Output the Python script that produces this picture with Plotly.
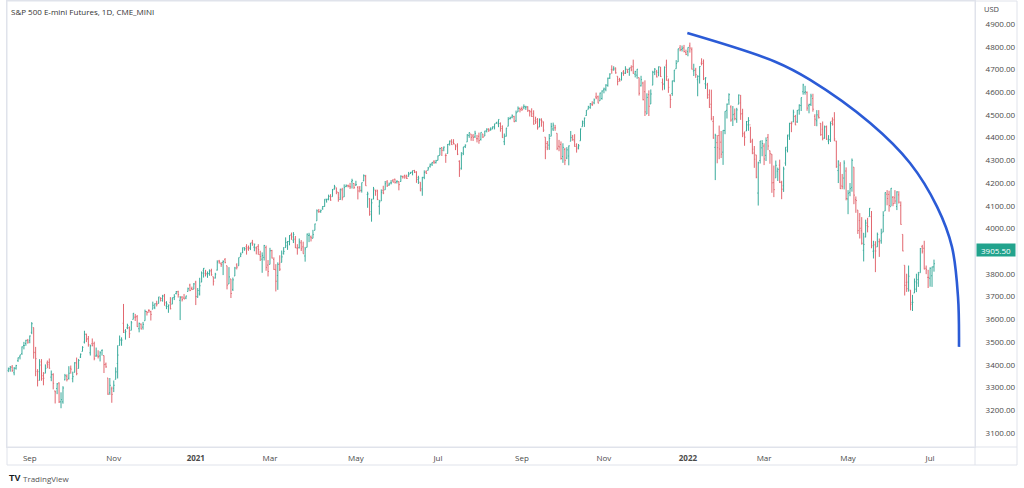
import pandas as pd
import plotly.graph_objects as go

# ---------------- data (one line per month) ----------------
holidays = ["2020-09-07", "2020-11-26", "2020-12-25", "2021-01-01", "2021-01-18", "2021-02-15",
            "2021-04-02", "2021-05-31", "2021-07-05", "2021-09-06", "2021-11-25", "2021-12-24",
            "2022-01-17", "2022-02-21", "2022-04-15", "2022-05-30", "2022-06-20", "2022-07-04"]
dates = [d for d in pd.bdate_range("2020-08-17", "2022-07-06") if d.strftime("%Y-%m-%d") not in holidays]

opens = [
    3375, 3383, 3390, 3365, 3385, 3418, 3435, 3449, 3485, 3494, 3508,
    3507, 3543, 3564, 3453, 3371, 3370, 3413, 3352, 3363, 3408, 3411, 3346, 3357, 3285, 3296, 3320, 3237, 3237, 3334, 3350, 3341,
    3385, 3339, 3367, 3408, 3384, 3434, 3459, 3500, 3535, 3515, 3453, 3493, 3493, 3439, 3439, 3439, 3464, 3441, 3403, 3342, 3277, 3294,
    3297, 3336, 3406, 3485, 3508, 3583, 3543, 3563, 3563, 3552, 3600, 3610, 3612, 3559, 3579, 3566, 3594, 3635, 3639, 3634,
    3645, 3653, 3669, 3670, 3694, 3683, 3706, 3659, 3657, 3675, 3667, 3696, 3714, 3722, 3684, 3698, 3694, 3694, 3723, 3751, 3736, 3733,
    3764, 3698, 3712, 3764, 3816, 3803, 3801, 3802, 3815, 3788, 3782, 3817, 3857, 3845, 3851, 3863, 3836, 3756, 3778,
    3732, 3791, 3840, 3836, 3878, 3893, 3910, 3920, 3917, 3912, 3939, 3918, 3915, 3921, 3885, 3865, 3873, 3916, 3839,
    3842, 3903, 3864, 3818, 3793, 3844, 3851, 3891, 3916, 3924, 3943, 3973, 3949, 3953, 3914, 3916, 3937, 3919, 3879, 3917, 3969, 3963, 3957,
    3992, 4034, 4076, 4074, 4089, 4097, 4125, 4130, 4141, 4140, 4174, 4179, 4159, 4128, 4170, 4139, 4185, 4188, 4186, 4206, 4198,
    4191, 4180, 4178, 4168, 4210, 4229, 4150, 4130, 4074, 4129, 4169, 4169, 4098, 4121, 4168, 4170, 4205, 4191, 4201, 4210,
    4217, 4206, 4206, 4207, 4229, 4233, 4232, 4229, 4242, 4248, 4255, 4249, 4216, 4204, 4174, 4225, 4249, 4256, 4274, 4284, 4293, 4290,
    4300, 4322, 4356, 4351, 4321, 4330, 4373, 4381, 4380, 4369, 4367, 4296, 4265, 4331, 4361, 4381, 4409, 4416, 4407, 4403, 4395,
    4406, 4392, 4416, 4407, 4429, 4437, 4436, 4442, 4446, 4464, 4461, 4462, 4440, 4382, 4406, 4450, 4484, 4490, 4493, 4474, 4513, 4529,
    4528, 4534, 4533, 4535, 4518, 4513, 4505, 4474, 4479, 4447, 4477, 4469, 4402, 4374, 4367, 4406, 4438, 4443, 4419, 4362, 4370,
    4317, 4348, 4310, 4319, 4384, 4407, 4385, 4368, 4358, 4386, 4448, 4464, 4497, 4525, 4532, 4547, 4553, 4579, 4580, 4562, 4572,
    4610, 4613, 4630, 4662, 4700, 4702, 4707, 4670, 4655, 4655, 4689, 4684, 4701, 4700, 4708, 4712, 4679, 4675, 4664, 4628, 4640,
    4602, 4504, 4589, 4548, 4631, 4690, 4690, 4687, 4710, 4642, 4637, 4719, 4652, 4587, 4594, 4650, 4703, 4733, 4795, 4788, 4795, 4775,
    4778, 4804, 4787, 4693, 4697, 4655, 4669, 4728, 4733, 4637, 4632, 4588, 4547, 4471, 4357, 4378, 4409, 4380, 4336, 4431,
    4520, 4566, 4535, 4482, 4505, 4480, 4547, 4553, 4506, 4412, 4429, 4456, 4456, 4385, 4332, 4324, 4156, 4299, 4355,
    4363, 4322, 4401, 4342, 4327, 4202, 4223, 4252, 4279, 4202, 4188, 4288, 4345, 4407, 4462, 4469, 4493, 4469, 4522, 4541, 4602, 4599, 4599,
    4540, 4547, 4572, 4494, 4474, 4494, 4463, 4437, 4398, 4449, 4385, 4390, 4472, 4478, 4385, 4255, 4279, 4187, 4222, 4253,
    4130, 4159, 4181, 4270, 4128, 4081, 4035, 3990, 3904, 3963, 4013, 4052, 4052, 3900, 3928, 3919, 3942, 3946, 3984, 4077, 4151,
    4150, 4096, 4137, 4135, 4097, 4148, 4101, 3974, 3838, 3763, 3764, 3729, 3675, 3716, 3733, 3775, 3805, 3920, 3913, 3825, 3785,
    3781, 3792, 3831,
]
highs = [
    3388, 3395, 3399, 3390, 3400, 3432, 3444, 3481, 3501, 3510, 3514,
    3529, 3588, 3564, 3479, 3381, 3425, 3425, 3368, 3402, 3419, 3428, 3375, 3363, 3286, 3320, 3323, 3279, 3306, 3360, 3358, 3394,
    3397, 3370, 3412, 3432, 3426, 3450, 3482, 3550, 3537, 3527, 3489, 3516, 3502, 3476, 3464, 3460, 3466, 3441, 3410, 3342, 3342, 3304,
    3331, 3389, 3486, 3529, 3521, 3668, 3557, 3581, 3569, 3593, 3628, 3624, 3619, 3586, 3582, 3589, 3643, 3636, 3645, 3638,
    3678, 3670, 3682, 3699, 3697, 3708, 3712, 3680, 3665, 3698, 3696, 3711, 3725, 3726, 3703, 3702, 3712, 3704, 3740, 3757, 3744, 3760,
    3770, 3738, 3783, 3811, 3826, 3818, 3811, 3820, 3823, 3788, 3805, 3860, 3862, 3852, 3860, 3870, 3836, 3830, 3778,
    3784, 3831, 3847, 3872, 3894, 3916, 3918, 3931, 3925, 3937, 3950, 3933, 3921, 3931, 3902, 3895, 3928, 3925, 3861,
    3915, 3906, 3873, 3843, 3851, 3882, 3903, 3918, 3961, 3945, 3971, 3982, 3984, 3967, 3931, 3956, 3949, 3942, 3919, 3978, 3981, 3969, 3994,
    4021, 4084, 4086, 4083, 4099, 4129, 4131, 4149, 4151, 4174, 4192, 4180, 4160, 4175, 4179, 4194, 4194, 4193, 4201, 4219, 4199,
    4210, 4187, 4187, 4202, 4238, 4236, 4162, 4134, 4131, 4183, 4170, 4170, 4126, 4172, 4188, 4209, 4213, 4202, 4213, 4218,
    4219, 4212, 4207, 4234, 4232, 4237, 4237, 4249, 4249, 4255, 4258, 4252, 4232, 4204, 4227, 4256, 4256, 4271, 4286, 4292, 4301, 4302,
    4321, 4356, 4358, 4361, 4330, 4372, 4387, 4393, 4393, 4369, 4375, 4300, 4336, 4359, 4370, 4415, 4423, 4416, 4416, 4430, 4412,
    4422, 4423, 4416, 4430, 4441, 4441, 4445, 4449, 4461, 4468, 4480, 4467, 4454, 4418, 4443, 4490, 4492, 4502, 4496, 4519, 4537, 4532,
    4537, 4546, 4540, 4538, 4522, 4529, 4520, 4492, 4486, 4484, 4485, 4471, 4402, 4385, 4416, 4465, 4466, 4456, 4419, 4390, 4383,
    4375, 4355, 4358, 4365, 4429, 4412, 4415, 4375, 4372, 4440, 4475, 4488, 4521, 4540, 4552, 4560, 4572, 4598, 4585, 4598, 4608,
    4620, 4635, 4664, 4683, 4718, 4714, 4708, 4670, 4663, 4688, 4697, 4714, 4701, 4708, 4718, 4743, 4694, 4702, 4664, 4672, 4646,
    4652, 4595, 4608, 4612, 4694, 4706, 4698, 4713, 4711, 4660, 4713, 4743, 4660, 4590, 4651, 4698, 4741, 4791, 4807, 4805, 4808, 4787,
    4797, 4818, 4797, 4725, 4707, 4674, 4714, 4749, 4744, 4666, 4641, 4612, 4611, 4495, 4417, 4411, 4453, 4429, 4433, 4516,
    4550, 4595, 4542, 4539, 4528, 4531, 4590, 4588, 4527, 4427, 4473, 4490, 4448, 4395, 4363, 4324, 4294, 4385, 4389,
    4375, 4401, 4416, 4343, 4327, 4277, 4299, 4268, 4303, 4210, 4272, 4358, 4412, 4465, 4471, 4523, 4500, 4521, 4546, 4576, 4637, 4628, 4603,
    4549, 4593, 4593, 4503, 4521, 4521, 4464, 4471, 4453, 4453, 4411, 4471, 4489, 4512, 4386, 4300, 4292, 4240, 4300, 4269,
    4169, 4200, 4308, 4270, 4141, 4081, 4068, 4050, 3981, 4039, 4047, 4090, 4077, 3946, 3944, 3982, 3956, 3999, 4076, 4159, 4169,
    4166, 4178, 4143, 4169, 4164, 4164, 4119, 3974, 3838, 3801, 3837, 3729, 3708, 3780, 3801, 3809, 3914, 3928, 3946, 3837, 3818,
    3829, 3832, 3863,
]
lows = [
    3368, 3370, 3369, 3354, 3379, 3413, 3424, 3444, 3468, 3484, 3493,
    3495, 3535, 3427, 3350, 3305, 3330, 3330, 3310, 3363, 3385, 3383, 3328, 3292, 3230, 3271, 3232, 3209, 3229, 3332, 3327, 3335,
    3361, 3323, 3367, 3354, 3384, 3430, 3459, 3494, 3500, 3480, 3441, 3482, 3420, 3435, 3428, 3415, 3441, 3364, 3387, 3268, 3268, 3233,
    3280, 3336, 3340, 3485, 3484, 3540, 3511, 3557, 3518, 3552, 3600, 3593, 3567, 3543, 3556, 3555, 3594, 3617, 3629, 3595,
    3645, 3645, 3657, 3670, 3679, 3678, 3660, 3645, 3629, 3644, 3667, 3685, 3710, 3696, 3597, 3679, 3689, 3689, 3723, 3724, 3729, 3733,
    3663, 3695, 3705, 3764, 3784, 3789, 3783, 3792, 3792, 3749, 3780, 3815, 3845, 3831, 3795, 3847, 3732, 3756, 3694,
    3725, 3791, 3820, 3836, 3874, 3892, 3902, 3885, 3902, 3905, 3924, 3900, 3886, 3884, 3857, 3805, 3859, 3814, 3789,
    3842, 3868, 3818, 3723, 3730, 3813, 3851, 3885, 3915, 3906, 3926, 3950, 3936, 3914, 3885, 3912, 3901, 3889, 3854, 3917, 3940, 3943, 3957,
    3992, 4034, 4069, 4069, 4082, 4096, 4114, 4124, 4122, 4140, 4171, 4151, 4118, 4126, 4124, 4139, 4182, 4181, 4174, 4176, 4174,
    4188, 4128, 4159, 4158, 4208, 4188, 4091, 4056, 4030, 4129, 4144, 4125, 4061, 4121, 4151, 4170, 4183, 4188, 4194, 4203,
    4198, 4198, 4168, 4206, 4220, 4219, 4218, 4229, 4240, 4234, 4244, 4201, 4196, 4164, 4144, 4217, 4241, 4256, 4268, 4275, 4284, 4286,
    4300, 4322, 4319, 4340, 4289, 4330, 4365, 4368, 4370, 4345, 4323, 4227, 4259, 4323, 4354, 4381, 4399, 4386, 4385, 4399, 4379,
    4373, 4387, 4398, 4407, 4423, 4425, 4430, 4436, 4436, 4461, 4446, 4426, 4399, 4367, 4405, 4450, 4480, 4485, 4468, 4469, 4513, 4511,
    4517, 4525, 4522, 4513, 4493, 4491, 4457, 4460, 4435, 4446, 4448, 4425, 4305, 4345, 4346, 4406, 4429, 4430, 4345, 4340, 4303,
    4289, 4279, 4305, 4278, 4384, 4386, 4360, 4334, 4348, 4386, 4448, 4447, 4496, 4524, 4527, 4539, 4547, 4569, 4551, 4562, 4567,
    4595, 4604, 4624, 4658, 4681, 4694, 4681, 4630, 4647, 4651, 4672, 4680, 4684, 4672, 4692, 4681, 4665, 4659, 4585, 4625, 4564,
    4495, 4504, 4495, 4548, 4631, 4675, 4665, 4670, 4667, 4608, 4611, 4650, 4597, 4530, 4584, 4644, 4703, 4733, 4780, 4779, 4775, 4763,
    4758, 4774, 4700, 4671, 4663, 4582, 4638, 4718, 4653, 4614, 4571, 4531, 4476, 4395, 4213, 4287, 4305, 4310, 4280, 4415,
    4484, 4544, 4470, 4451, 4476, 4465, 4547, 4478, 4402, 4364, 4429, 4430, 4377, 4327, 4267, 4221, 4101, 4286, 4318,
    4279, 4297, 4345, 4285, 4157, 4138, 4223, 4209, 4200, 4129, 4161, 4276, 4335, 4390, 4424, 4468, 4455, 4465, 4501, 4517, 4589, 4589, 4518,
    4507, 4539, 4514, 4451, 4450, 4484, 4408, 4388, 4395, 4390, 4371, 4381, 4453, 4384, 4267, 4200, 4174, 4173, 4172, 4124,
    4063, 4142, 4162, 4107, 4069, 3976, 3956, 3929, 3855, 3961, 3983, 4052, 3913, 3868, 3808, 3919, 3875, 3933, 3984, 4077, 4102,
    4074, 4098, 4098, 4108, 4081, 4110, 4017, 3900, 3705, 3721, 3722, 3640, 3637, 3716, 3720, 3743, 3805, 3890, 3820, 3799, 3738,
    3744, 3743, 3810,
]
closes = [
    3382, 3390, 3375, 3385, 3397, 3431, 3444, 3479, 3485, 3508, 3500,
    3527, 3581, 3455, 3427, 3332, 3399, 3339, 3341, 3384, 3401, 3385, 3357, 3319, 3281, 3316, 3237, 3247, 3298, 3352, 3335, 3363,
    3381, 3348, 3409, 3361, 3419, 3447, 3477, 3534, 3512, 3489, 3483, 3484, 3427, 3443, 3436, 3453, 3465, 3401, 3391, 3271, 3310, 3270,
    3310, 3369, 3443, 3510, 3509, 3550, 3546, 3573, 3537, 3585, 3627, 3610, 3568, 3582, 3558, 3578, 3635, 3630, 3638, 3622,
    3662, 3669, 3667, 3699, 3692, 3702, 3673, 3668, 3663, 3647, 3695, 3701, 3722, 3709, 3695, 3687, 3690, 3703, 3735, 3727, 3732, 3756,
    3701, 3727, 3748, 3804, 3825, 3800, 3801, 3810, 3796, 3768, 3799, 3852, 3853, 3841, 3855, 3850, 3751, 3787, 3714,
    3774, 3826, 3830, 3872, 3887, 3916, 3911, 3910, 3916, 3935, 3933, 3931, 3914, 3907, 3877, 3881, 3925, 3829, 3811,
    3902, 3870, 3820, 3768, 3842, 3821, 3875, 3899, 3939, 3943, 3969, 3963, 3974, 3915, 3913, 3941, 3911, 3889, 3910, 3975, 3971, 3959, 3973,
    4020, 4078, 4074, 4080, 4097, 4129, 4128, 4142, 4125, 4170, 4185, 4163, 4135, 4173, 4135, 4180, 4188, 4187, 4183, 4211, 4181,
    4193, 4165, 4168, 4202, 4233, 4188, 4152, 4063, 4113, 4174, 4163, 4128, 4116, 4159, 4156, 4197, 4188, 4196, 4201, 4204,
    4202, 4208, 4193, 4230, 4227, 4227, 4220, 4239, 4247, 4255, 4247, 4224, 4222, 4166, 4225, 4246, 4242, 4266, 4281, 4291, 4292, 4298,
    4320, 4352, 4344, 4358, 4321, 4370, 4385, 4369, 4374, 4360, 4327, 4258, 4323, 4359, 4367, 4412, 4422, 4401, 4401, 4419, 4395,
    4387, 4423, 4403, 4429, 4437, 4432, 4437, 4448, 4461, 4468, 4480, 4448, 4400, 4406, 4442, 4480, 4486, 4496, 4470, 4509, 4529, 4523,
    4524, 4537, 4535, 4520, 4514, 4493, 4459, 4469, 4443, 4481, 4474, 4433, 4358, 4354, 4396, 4449, 4455, 4443, 4353, 4359, 4308,
    4357, 4300, 4346, 4364, 4400, 4391, 4361, 4351, 4364, 4438, 4471, 4486, 4520, 4536, 4550, 4545, 4566, 4575, 4552, 4596, 4605,
    4614, 4631, 4661, 4680, 4698, 4702, 4685, 4647, 4649, 4683, 4683, 4701, 4689, 4705, 4698, 4683, 4691, 4701, 4595, 4655, 4567,
    4513, 4577, 4538, 4592, 4687, 4701, 4667, 4712, 4669, 4634, 4710, 4669, 4621, 4568, 4649, 4697, 4726, 4791, 4786, 4793, 4779, 4766,
    4797, 4794, 4701, 4696, 4677, 4670, 4713, 4726, 4659, 4663, 4577, 4533, 4483, 4398, 4410, 4356, 4350, 4327, 4432, 4516,
    4547, 4589, 4477, 4501, 4484, 4522, 4587, 4504, 4419, 4402, 4471, 4475, 4380, 4349, 4305, 4226, 4289, 4385, 4374,
    4306, 4387, 4363, 4329, 4201, 4171, 4278, 4260, 4204, 4173, 4262, 4358, 4412, 4463, 4461, 4512, 4456, 4520, 4543, 4576, 4632, 4602, 4530,
    4546, 4583, 4525, 4481, 4500, 4488, 4413, 4397, 4447, 4393, 4392, 4462, 4459, 4394, 4272, 4296, 4175, 4184, 4288, 4132,
    4155, 4175, 4300, 4147, 4123, 3991, 4001, 3935, 3930, 4024, 4008, 4089, 3924, 3901, 3901, 3974, 3941, 3979, 4058, 4158, 4132,
    4101, 4177, 4109, 4121, 4161, 4116, 4018, 3901, 3750, 3735, 3790, 3667, 3675, 3765, 3760, 3796, 3912, 3900, 3822, 3819, 3785,
    3825, 3831, 3845,
]

tick_months = ["2020-09", "2020-11", "2021-01", "2021-03", "2021-05", "2021-07",
               "2021-09", "2021-11", "2022-01", "2022-03", "2022-05", "2022-07"]
tick_labels = ["Sep", "Nov", "<b>2021</b>", "Mar", "May", "Jul",
               "Sep", "Nov", "<b>2022</b>", "Mar", "May", "Jul"]
# 3900.00 is hidden behind the last-price label in the reference
price_ticks = [3100, 3200, 3300, 3400, 3500, 3600, 3700, 3800, 4000,
               4100, 4200, 4300, 4400, 4500, 4600, 4700, 4800, 4900]
last_price = 3905.50

# hand-drawn arc (TradingView drawing), anchors in (bar index, price)
arc_x = [347.7, 392.7, 410.6, 441.3, 461.7, 475.6, 483.2, 486.3, 486.8]
arc_y = [4860, 4734, 4654, 4464, 4288, 4095, 3919, 3699, 3479]

assert len(opens) == len(highs) == len(lows) == len(closes) == len(dates), (
    len(opens), len(highs), len(lows), len(closes), len(dates))

# ---------------- figure ----------------
W, H = 1024, 488
L, R, T, B = 7, 975, 1, 447          # plot area in pixels
def px(xp):
    return (xp - L) / (R - L)
def py(yp):
    return (B - yp) / (B - T)

x = list(range(len(closes)))
tick_idx = [next(i for i, d in enumerate(dates) if d.strftime("%Y-%m") == m) for m in tick_months]

UP, DN = "#3aab9c", "#e2676f"
fig = go.Figure()
fig.add_trace(go.Ohlc(
    x=x, open=opens, high=highs, low=lows, close=closes,
    increasing=dict(line=dict(color=UP, width=1)),
    decreasing=dict(line=dict(color=DN, width=1)),
    tickwidth=0.45, hoverinfo="skip", showlegend=False,
))
fig.add_trace(go.Scatter(
    x=arc_x, y=arc_y, mode="lines",
    line=dict(color="#2b5bd6", width=2.6, shape="spline", smoothing=1.0),
    hoverinfo="skip", showlegend=False,
))

grey = "#e0e3eb"
font_family = "Open Sans, Noto Sans, sans-serif"
fig.update_layout(
    width=W, height=H,
    margin=dict(l=L, r=W - R, t=T, b=H - B, pad=0),
    paper_bgcolor="white", plot_bgcolor="white",
    font=dict(family=font_family, size=8, color="#4a4a4a"),
    showlegend=False, hovermode=False,
    xaxis=dict(
        range=[-0.66, 495], rangeslider=dict(visible=False),
        tickmode="array", tickvals=tick_idx, ticktext=tick_labels,
        showgrid=False, zeroline=False, ticks="", ticklabelstandoff=3,
        showline=True, linecolor=grey, linewidth=1, mirror=True,
        tickfont=dict(size=8, color="#4a4a4a"),
    ),
    yaxis=dict(
        range=[3038.4, 5001.2], side="right",
        tickmode="array", tickvals=price_ticks,
        ticktext=["%.2f" % v for v in price_ticks],
        showgrid=False, zeroline=False, ticks="", ticklabelstandoff=8,
        showline=True, linecolor=grey, linewidth=1, mirror=True,
        tickfont=dict(size=8, color="#4a4a4a"),
    ),
)

y_time_bottom = py(465)
x_right = px(1017)
shapes = [
    dict(type="rect", xref="paper", yref="paper", x0=0, x1=x_right, y0=y_time_bottom, y1=1,
         line=dict(color=grey, width=1), fillcolor="rgba(0,0,0,0)"),
    dict(type="line", xref="paper", yref="paper", x0=1, x1=1, y0=y_time_bottom, y1=1,
         line=dict(color=grey, width=1)),
    dict(type="line", xref="paper", yref="paper", x0=0, x1=x_right, y0=0, y1=0,
         line=dict(color=grey, width=1)),
]
fig.update_layout(shapes=shapes)

annotations = [
    dict(text="S&P 500 E-mini Futures, 1D, CME_MINI", xref="paper", yref="paper",
         x=px(9), y=py(12), xanchor="left", yanchor="middle", showarrow=False,
         font=dict(size=8, color="#333333")),
    dict(text="USD", xref="paper", yref="paper", x=px(982), y=py(9),
         xanchor="left", yanchor="middle", showarrow=False,
         font=dict(size=7.5, color="#4a4a4a")),
    dict(text="%.2f" % last_price, xref="paper", yref="y", x=px(976), y=last_price,
         xanchor="left", yanchor="middle", showarrow=False,
         bgcolor="#22a38d", width=36, height=10, borderpad=1,
         font=dict(size=8, color="white")),
    dict(text="<b>TV</b>", xref="paper", yref="paper", x=px(7), y=py(478),
         xanchor="left", yanchor="middle", showarrow=False,
         font=dict(size=9, color="#131722", family="Arial Black, Liberation Sans, sans-serif")),
    dict(text="TradingView", xref="paper", yref="paper", x=px(21), y=py(478),
         xanchor="left", yanchor="middle", showarrow=False,
         font=dict(size=8, color="#555555")),
]
fig.update_layout(annotations=annotations)

fig.write_html("out.html")
